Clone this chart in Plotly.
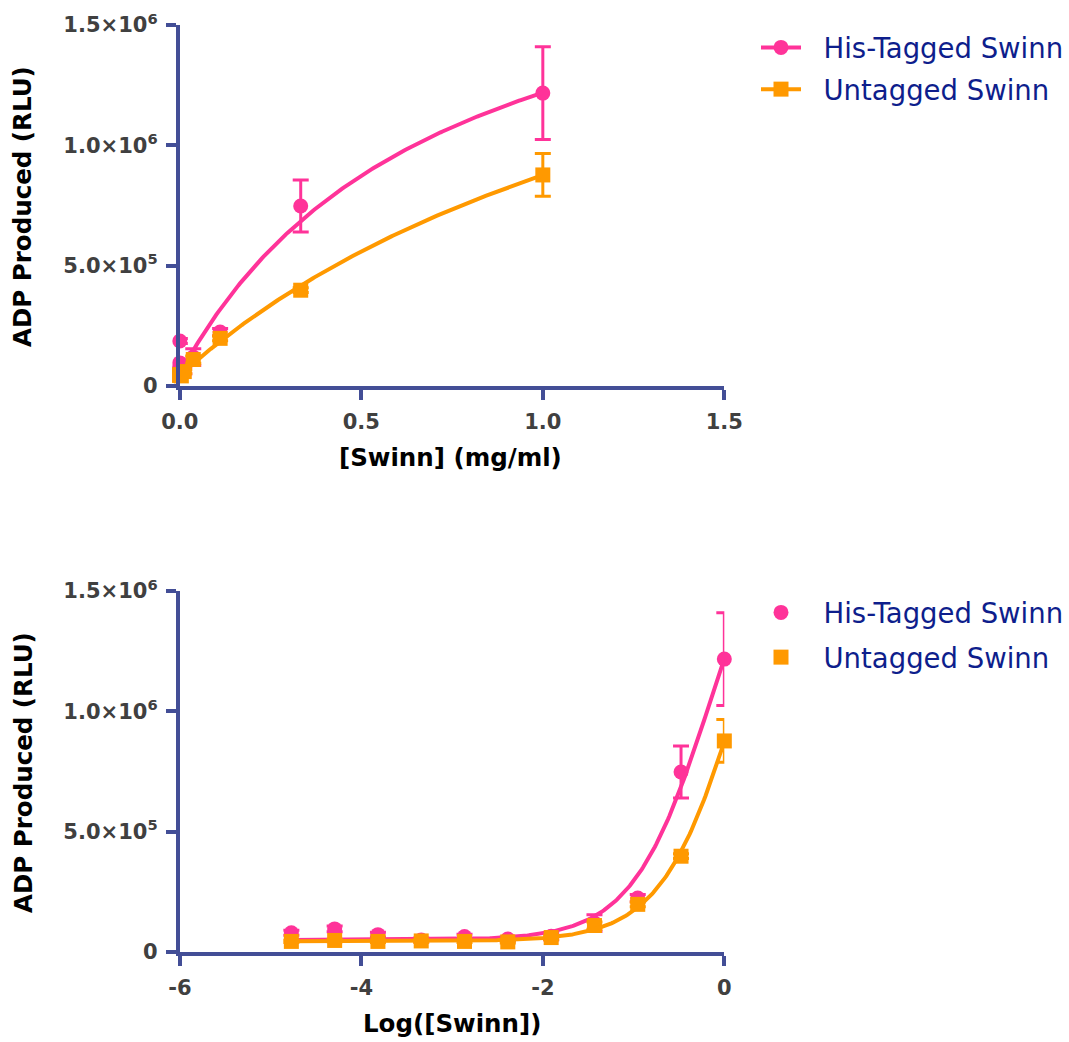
import numpy as np
import plotly.graph_objects as go

# ---------------- data ----------------
conc = [0.0, 0.0000169, 0.0000508, 0.000152, 0.000457, 0.00137, 0.00412,
        0.0123, 0.0370, 0.111, 0.333, 1.0]
log_conc = [-4.771, -4.294, -3.817, -3.340, -2.863, -2.386, -1.908,
            -1.431, -0.954, -0.477, 0.0]

his_vals = [1.87e5, 8.0e4, 9.6e4, 7.2e4, 5.0e4, 6.4e4, 5.4e4, 6.5e4,
            1.2e5, 2.24e5, 7.48e5, 1.217e6]
his_err = [1.0e4, 1.0e4, 1.2e4, 1.0e4, 8e3, 1.0e4, 8e3, 1.5e4,
           3.5e4, 1.5e4, 1.08e5, 1.93e5]
unt_vals = [4.5e4, 4.4e4, 4.8e4, 4.4e4, 4.6e4, 4.4e4, 4.2e4, 6.0e4,
            1.1e5, 1.98e5, 3.98e5, 8.77e5]
unt_err = [5e3, 5e3, 5e3, 5e3, 5e3, 5e3, 5e3, 8e3,
           1.5e4, 1.0e4, 1.0e4, 8.9e4]

# fitted hyperbola parameters (bottom, span, K)
his_fit = (5.0e4, 2.01e6, 0.72)
unt_fit = (4.5e4, 2.16e6, 1.6)

y_tickvals = [0, 5e5, 1e6, 1.5e6]
y_ticktext = ["0", "5.0×10<sup>5</sup>", "1.0×10<sup>6</sup>", "1.5×10<sup>6</sup>"]
x1_tickvals = [0, 0.5, 1.0, 1.5]
x1_ticktext = ["0.0", "0.5", "1.0", "1.5"]
x2_tickvals = [-6, -4, -2, 0]
x2_ticktext = ["-6", "-4", "-2", "0"]

names = ["His-Tagged Swinn", "Untagged Swinn"]
colors = ["#FF3399", "#FF9900"]
symbols = ["circle", "square"]

# ---------------- style ----------------
W, H = 1069, 1042
AX = "#434E96"
TICKC = "#404040"
LEGC = "#0E1E8C"
FONT = "DejaVu Sans"
PAD = "\u00a0\u00a0"


def model(c, p):
    b, v, k = p
    return b + v * c / (k + c)


fig = go.Figure()

x_lin = np.linspace(0, 1, 200)
x_log = np.linspace(log_conc[0], 0, 300)

series = [(his_vals, his_err, his_fit), (unt_vals, unt_err, unt_fit)]
for i, (vals, err, p) in enumerate(series):
    # top (linear) points
    fig.add_trace(go.Scatter(
        x=conc, y=vals, mode="markers", xaxis="x", yaxis="y",
        marker=dict(color=colors[i], size=15, symbol=symbols[i]),
        error_y=dict(type="data", array=err, color=colors[i], thickness=3, width=8),
        cliponaxis=False, showlegend=False))
    fig.add_trace(go.Scatter(
        x=x_lin, y=model(x_lin, p), mode="lines", xaxis="x", yaxis="y",
        line=dict(color=colors[i], width=4), showlegend=False))
    # legend entry top
    fig.add_trace(go.Scatter(
        x=[None], y=[None], mode="lines+markers", name=PAD + names[i],
        xaxis="x", yaxis="y",
        line=dict(color=colors[i], width=4),
        marker=dict(color=colors[i], size=15, symbol=symbols[i]),
        legend="legend", legendgroup="t%d" % i))
    # bottom (log) points
    fig.add_trace(go.Scatter(
        x=log_conc, y=vals[1:], mode="markers", xaxis="x2", yaxis="y2",
        marker=dict(color=colors[i], size=15, symbol=symbols[i]),
        error_y=dict(type="data", array=err[1:], color=colors[i], thickness=3, width=8),
        cliponaxis=False, name=PAD + names[i], legend="legend2",
        legendgroup="b%d" % i))
    fig.add_trace(go.Scatter(
        x=x_log, y=model(10 ** x_log, p), mode="lines", xaxis="x2", yaxis="y2",
        line=dict(color=colors[i], width=4), showlegend=False))

xd = [180 / W, 725 / W]
top_d = [1 - 386 / H, 1 - 25 / H]
bot_d = [1 - 952 / H, 1 - 591 / H]

axis_common = dict(showline=True, linewidth=4, linecolor=AX, ticks="outside",
                   ticklen=10, tickwidth=4, tickcolor=AX, showgrid=False,
                   zeroline=False, automargin=False, ticklabelstandoff=4)
xfont = dict(family=FONT, size=21, color=TICKC, weight="bold")
yfont = dict(family=FONT, size=21, color=TICKC, weight="bold")

fig.update_layout(
    width=W, height=H, margin=dict(l=0, r=0, t=0, b=0),
    paper_bgcolor="white", plot_bgcolor="white",
    xaxis=dict(domain=xd, anchor="y", range=[0, 1.5], tickvals=x1_tickvals,
               ticktext=x1_ticktext, tickfont=xfont, **axis_common),
    yaxis=dict(domain=top_d, anchor="x", range=[0, 1.5e6], tickvals=y_tickvals,
               ticktext=y_ticktext, tickfont=yfont, **axis_common),
    xaxis2=dict(domain=xd, anchor="y2", range=[-6, 0], tickvals=x2_tickvals,
                ticktext=x2_ticktext, tickfont=xfont, **axis_common),
    yaxis2=dict(domain=bot_d, anchor="x2", range=[0, 1.5e6], tickvals=y_tickvals,
                ticktext=y_ticktext, tickfont=yfont, **axis_common),
    legend=dict(x=757 / W, y=1 - 23 / H, xanchor="left", yanchor="top",
                font=dict(family=FONT, size=27.5, color=LEGC),
                bgcolor="rgba(0,0,0,0)", itemwidth=40, tracegroupgap=3,
                traceorder="grouped"),
    legend2=dict(x=757 / W, y=1 - 588 / H, xanchor="left", yanchor="top",
                 font=dict(family=FONT, size=27.5, color=LEGC),
                 bgcolor="rgba(0,0,0,0)", itemwidth=40, tracegroupgap=6,
                 traceorder="grouped"),
)

title_font = dict(family=FONT, size=24.5, color="#000000", weight="bold")
annots = [
    dict(text="ADP Produced (RLU)", x=23 / W, y=1 - 206 / H, textangle=-90),
    dict(text="ADP Produced (RLU)", x=23 / W, y=1 - 772 / H, textangle=-90),
    dict(text="[Swinn] (mg/ml)", x=451 / W, y=1 - 457 / H, textangle=0),
    dict(text="Log([Swinn])", x=452 / W, y=1 - 1023 / H, textangle=0),
]
for a in annots:
    fig.add_annotation(xref="paper", yref="paper", showarrow=False,
                       xanchor="center", yanchor="middle", font=title_font, **a)

fig.write_html("out.html")
